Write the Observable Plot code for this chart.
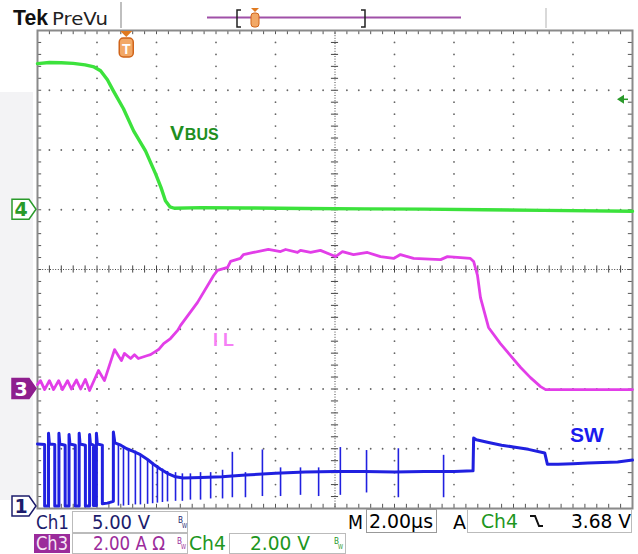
<!DOCTYPE html>
<html><head><meta charset="utf-8">
<script src="https://cdn.jsdelivr.net/npm/d3@7"></script>
<script src="https://cdn.jsdelivr.net/npm/@observablehq/plot@0.6"></script>
<style>body{margin:0;background:#fff;} #chart svg{display:block}</style>
</head><body><div id="chart"></div>
<script>
// ---------- Channel settings ----------
const ch1 = {scale: 5, offset: -4};  // SW, 5.00 V/div
const ch3 = {scale: 2, offset: -2};  // IL, 2.00 A/div
const ch4 = {scale: 2, offset: 1};   // VBUS, 2.00 V/div
const triggerTime = 3.0;   // µs
const triggerLevel = 3.68; // V (Ch4)

// ---------- Waveforms [time µs, value] ----------
const vbus = [[0,4.89],[0.4,4.93],[0.8,4.92],[1.2,4.9],[1.6,4.85],[1.9,4.78],[2.12,4.65],[2.35,4.35],[2.55,3.98],[2.89,3.38],[3.23,2.64],[3.63,1.97],[3.97,1.2],[4.15,0.75],[4.3,0.3],[4.45,0.1],[4.6,0.05],[5.5,0.07],[7,0.06],[9,0.04],[11,0.03],[13,0.02],[15,0.0],[17,-0.02],[20,-0.05]];

const il = [[0,0.15],[0.10,0.28],[0.24,-0.02],[0.40,0.28],[0.54,-0.02],[0.71,0.28],[0.84,-0.02],[1.01,0.28],[1.14,0.0],[1.31,0.3],[1.45,0.0],[1.61,0.32],[1.75,-0.05],[2.05,0.62],[2.25,0.28],[2.59,1.32],[2.82,0.95],[2.92,1.19],[3.13,1.02],[3.26,1.15],[3.39,1.02],[3.70,1.12],[3.80,1.15],[3.97,1.26],[4.07,1.32],[4.24,1.52],[4.47,1.69],[4.71,1.96],[4.81,2.13],[5.38,2.90],[5.92,3.80],[6.05,3.97],[6.39,4.07],[6.49,4.27],[6.82,4.37],[6.92,4.50],[7.26,4.57],[7.76,4.67],[8.17,4.60],[8.34,4.67],[8.74,4.57],[8.84,4.64],[9.18,4.57],[9.51,4.64],[9.85,4.50],[10.02,4.43],[10.25,4.60],[10.62,4.50],[11.09,4.57],[11.53,4.43],[11.97,4.37],[12.20,4.50],[12.64,4.37],[13.55,4.33],[13.78,4.43],[14.55,4.37],[14.66,4.27],[14.79,3.80],[14.89,3.06],[15.16,2.06],[15.56,1.52],[15.90,1.12],[16.24,0.72],[16.57,0.38],[16.91,0.08],[17.08,-0.02],[20,-0.02]];

const sw = [[0,5.4],[0.24,5.35],[0.24,0.2],[0.37,0.2],[0.37,6.3],[0.40,5.4],[0.58,5.35],[0.58,0.2],[0.72,0.2],[0.72,6.3],[0.75,5.4],[0.93,5.3],[0.93,0.2],[1.06,0.2],[1.06,6.2],[1.09,5.4],[1.27,5.3],[1.27,0.2],[1.40,0.2],[1.40,6.3],[1.43,5.4],[1.61,5.3],[1.61,0.2],[1.75,0.2],[1.75,6.2],[1.78,5.4],[1.88,5.3],[1.88,0.25],[1.98,0.25],[1.98,6.3],[2.01,5.4],[2.18,5.3],[2.18,0.4],[2.35,0.45],[2.55,0.6],[2.55,6.4],[2.6,5.5],[2.8,5.3],[3.0,5.0],[3.2,4.8],[3.46,4.5],[3.7,4.1],[3.9,3.7],[4.13,3.3],[4.4,2.9],[4.64,2.65],[4.9,2.55],[5.5,2.6],[6.2,2.65],[7,2.8],[8,2.95],[9,3.05],[10,3.1],[11,3.1],[12,3.05],[13,3.1],[14,3.1],[14.64,3.15],[14.66,5.9],[14.75,5.75],[15.2,5.5],[15.6,5.3],[16,5.15],[16.5,4.95],[17.05,4.65],[17.14,3.7],[17.5,3.7],[18,3.75],[18.5,3.8],[19,3.85],[19.5,3.9],[20,4.05]];

const swSpikeTime = [2.72,2.89,3.06,3.29,3.46,3.70,3.87,4.03,4.20,4.37,4.64,4.87,5.14,5.48,5.82,6.22,6.55,6.99,7.56,8.17,8.84,9.45,10.18,11.06,12.13,13.65];
const swSpikeLow  = [0.2,0.2,0.25,0.3,0.3,0.35,0.4,0.45,0.5,0.55,0.6,0.6,0.7,0.7,0.8,0.8,0.9,0.9,1.0,1.0,1.1,1.0,1.1,1.3,0.9,0.9];
const swSpikeHigh = [5.3,5.2,5.0,4.8,4.5,4.1,3.8,3.6,3.3,3.1,3.0,2.9,2.9,3.0,3.0,3.2,4.7,3.0,4.9,3.4,3.4,3.4,5.1,4.85,5.0,4.45];

// ---------- helpers ----------
const toDiv = (data, ch) => data.map(([t, v]) => ({t, y: ch.offset + v / ch.scale}));
const spikes = swSpikeTime.map((t, i) => ({t, y1: ch1.offset + swSpikeLow[i] / ch1.scale, y2: ch1.offset + swSpikeHigh[i] / ch1.scale}));

// graticule
const gridDots = [];
for (const t of [2,4,6,8,12,14,16,18]) for (let i = 1; i < 40; i++) if (i !== 20) gridDots.push({t, y: -4 + i * 0.2});
for (const y of [-3,-2,-1,1,2,3]) for (let i = 1; i < 50; i++) if (i !== 25) gridDots.push({t: i * 0.4, y});
const minorX = d3.range(1, 50).map(i => i * 0.4);
const minorY = d3.range(1, 40).map(i => -4 + i * 0.2);

const chart = Plot.plot({
  width: 638, height: 554,
  marginLeft: 37, marginRight: 6, marginTop: 30, marginBottom: 46,
  x: {domain: [0, 20], axis: null},
  y: {domain: [-4, 4], axis: null},
  style: {background: "transparent", overflow: "visible"},
  marks: [
    Plot.dot(gridDots, {x: "t", y: "y", r: 0.9, fill: "#666", stroke: "none"}),
    Plot.ruleY([0], {stroke: "#444", strokeDasharray: "1,1.6"}),
    Plot.ruleX([10], {stroke: "#444", strokeDasharray: "1,1.6"}),
    Plot.ruleX(minorX, {x: d => d, y1: -0.06, y2: 0.06, stroke: "#444"}),
    Plot.ruleY(minorY, {y: d => d, x1: 9.88, x2: 10.12, stroke: "#444"}),
    Plot.ruleX(minorX, {x: d => d, y1: 4, y2: 3.93, stroke: "#555"}),
    Plot.ruleX(minorX, {x: d => d, y1: -4, y2: -3.93, stroke: "#555"}),
    Plot.ruleY(minorY, {y: d => d, x1: 0, x2: 0.14, stroke: "#555"}),
    Plot.ruleY(minorY, {y: d => d, x1: 20, x2: 19.86, stroke: "#555"}),
    Plot.frame({stroke: "#8a8a8a", strokeWidth: 2}),
    Plot.line(toDiv(vbus, ch4), {x: "t", y: "y", stroke: "#3ce23c", strokeWidth: 3.4}),
    Plot.line(toDiv(il, ch3), {x: "t", y: "y", stroke: "#e23ee8", strokeWidth: 2.8}),
    Plot.ruleX(spikes, {x: "t", y1: "y1", y2: "y2", stroke: "#2020e0", strokeWidth: 1.6}),
    Plot.line(toDiv(sw, ch1), {x: "t", y: "y", stroke: "#2020e0", strokeWidth: 3})
  ]
});
document.getElementById("chart").append(chart);

const svg = d3.select(chart);
const xs = chart.scale("x"), ys = chart.scale("y");
const FONT = "'DejaVu Sans', Verdana, sans-serif";

// light strip at left
svg.insert("rect", ":first-child").attr("x", 0).attr("y", 92).attr("width", 33).attr("height", 408).attr("fill", "#f3f3f5");

function text(x, y, s, o = {}) {
  const t = svg.append("text").attr("x", x).attr("y", y)
    .attr("font-family", o.family || FONT).attr("font-size", o.size || 19)
    .attr("font-weight", o.weight || "normal").attr("fill", o.fill || "#000")
    .attr("text-anchor", o.anchor || "start").text(s);
  if (o.len) t.attr("textLength", o.len).attr("lengthAdjust", "spacingAndGlyphs");
  return t;
}
function box(x, y, w, h, stroke = "#bbb", fill = "none") {
  svg.append("rect").attr("x", x).attr("y", y).attr("width", w).attr("height", h).attr("fill", fill).attr("stroke", stroke).attr("stroke-width", 1);
}
function bw(x, y, fill) {
  text(x, y - 5, "B", {size: 8, fill, len: 5});
  text(x + 4, y, "W", {size: 7, fill, len: 5});
}

// channel markers
function chMarker(yPix, color, filled, label) {
  svg.append("path").attr("d", `M12,${yPix - 10}H29L36,${yPix}L29,${yPix + 10}H12Z`)
    .attr("fill", filled ? color : "#fff").attr("stroke", color).attr("stroke-width", 1.5);
  text(21, yPix + 7, label, {anchor: "middle", size: 19, weight: "bold", fill: filled ? "#fff" : color});
}
chMarker(ys.apply(ch4.offset), "#2a9a2a", false, "4");
chMarker(ys.apply(ch3.offset), "#8e1e8e", true, "3");
chMarker(ys.apply(ch1.offset) - 2, "#1c1c6c", false, "1");

// trigger position marker (top)
const tx = xs.apply(triggerTime);
svg.append("path").attr("d", `M${tx - 6},31L${tx + 6},31L${tx},37Z`).attr("fill", "#e07a20");
svg.append("rect").attr("x", tx - 7).attr("y", 38).attr("width", 14).attr("height", 19).attr("rx", 4).attr("fill", "#f2a866").attr("stroke", "#d0641a").attr("stroke-width", 1.5);
text(tx, 54, "T", {anchor: "middle", size: 14, weight: "bold", fill: "#fff", family: "'Liberation Sans', Arial, sans-serif"});

// trigger level arrow (right)
const ty = ys.apply(ch4.offset + triggerLevel / ch4.scale);
svg.append("path").attr("d", `M617,${ty}L624,${ty - 4.5}L624,${ty + 4.5}Z`).attr("fill", "#2a9a2a");
svg.append("line").attr("x1", 623).attr("x2", 628).attr("y1", ty).attr("y2", ty).attr("stroke", "#2a9a2a").attr("stroke-width", 1.5);

// trace labels
const LAB = "'Liberation Sans', Arial, sans-serif";
text(xs.apply(4.47), ys.apply(2.16), "V", {size: 21, weight: "bold", fill: "#1f8f1f", family: LAB});
text(xs.apply(4.97), ys.apply(2.16), "BUS", {size: 16, weight: "bold", fill: "#1f8f1f", family: LAB});
text(xs.apply(5.92), ys.apply(-1.29), "I L", {size: 18, weight: "bold", fill: "#f57ff5", family: LAB});
text(xs.apply(17.92), ys.apply(-2.895), "SW", {size: 21, weight: "bold", fill: "#1a1aee", family: LAB});

// header
text(13, 25, "Tek", {size: 22, weight: "bold", fill: "#111", family: LAB, len: 35});
text(52, 25, "PreVu", {size: 18, fill: "#222", len: 56});
svg.append("line").attr("x1", 121).attr("x2", 121).attr("y1", 2).attr("y2", 28).attr("stroke", "#aaa").attr("stroke-width", 1.5);
svg.append("line").attr("x1", 207).attr("x2", 461).attr("y1", 17.5).attr("y2", 17.5).attr("stroke", "#a050a8").attr("stroke-width", 2);
svg.append("path").attr("d", "M241,10H237V27H241").attr("fill", "none").attr("stroke", "#222").attr("stroke-width", 1.5);
svg.append("path").attr("d", "M361,10H365V27H361").attr("fill", "none").attr("stroke", "#222").attr("stroke-width", 1.5);
svg.append("path").attr("d", "M251,8L259,8L255,12Z").attr("fill", "#e07a20");
svg.append("rect").attr("x", 251).attr("y", 13).attr("width", 8).attr("height", 14).attr("rx", 3).attr("fill", "#f2a866").attr("stroke", "#d0641a");
svg.append("line").attr("x1", 546).attr("x2", 546).attr("y1", 8).attr("y2", 28).attr("stroke", "#ccc").attr("stroke-width", 1.5);

// readouts row 1
const NAVY = "#1c1c6c", PURP = "#9b2b9b", GRN = "#1e961e";
text(36, 529, "Ch1", {fill: NAVY, len: 33});
box(72.5, 511.5, 115, 21);
text(92, 529, "5.00 V", {fill: NAVY, len: 58});
bw(178, 528, NAVY);
// row 2
svg.append("rect").attr("x", 34).attr("y", 534).attr("width", 36).attr("height", 19).attr("fill", PURP);
text(36, 550, "Ch3", {fill: "#f6e6f6", len: 32});
box(72.5, 533.5, 115, 20);
text(93, 550, "2.00 A Ω", {fill: PURP, len: 72});
bw(177, 549, PURP);
text(189, 550, "Ch4", {fill: GRN, len: 37});
box(229.5, 533.5, 116, 20);
text(250, 550, "2.00 V", {fill: GRN, len: 60});
bw(334, 549, GRN);
// right side
text(348, 529, "M", {len: 15});
box(366.5, 509.5, 70, 23, "#999");
text(369, 528, "2.00µs", {len: 64});
text(453, 529, "A", {len: 13});
box(467.5, 509.5, 164, 23);
text(481, 528, "Ch4", {fill: GRN, len: 37});
svg.append("path").attr("d", "M530,516H535L539,526H543").attr("fill", "none").attr("stroke", "#111").attr("stroke-width", 2);
text(571, 528, "3.68 V", {len: 60});
</script>
</body></html>
